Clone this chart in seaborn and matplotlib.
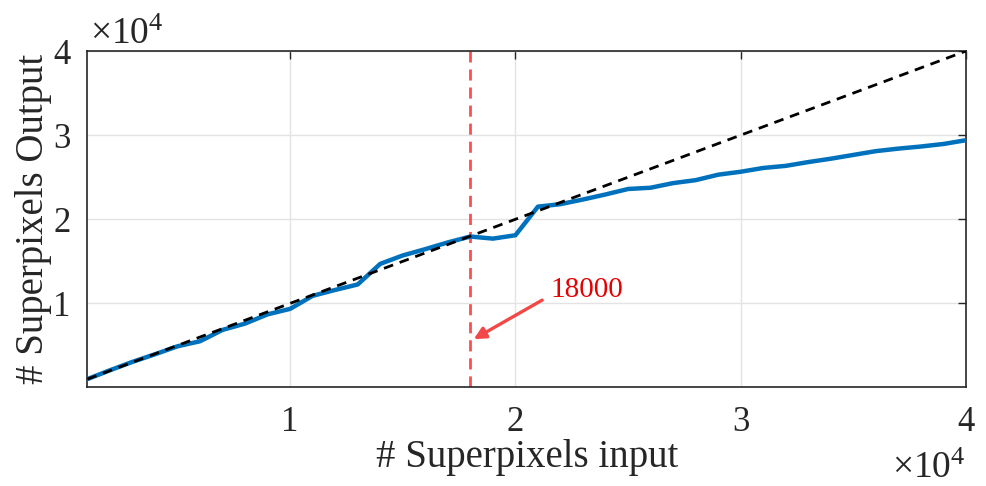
import numpy as np
import pandas as pd
import matplotlib
matplotlib.use("Agg")
import matplotlib.pyplot as plt
import seaborn as sns

# ---- data ----
sp_input = [1000, 2000, 3000, 4000, 5000, 6000, 7000, 8000, 9000, 10000,
            11000, 12000, 13000, 14000, 15000, 16000, 17000, 18000, 19000, 20000,
            21000, 22000, 23000, 24000, 25000, 26000, 27000, 28000, 29000, 30000,
            31000, 32000, 33000, 34000, 35000, 36000, 37000, 38000, 39000, 40000]
sp_output = [1000, 2050, 3050, 3950, 4900, 5500, 6850, 7600, 8700, 9350,
             10900, 11600, 12250, 14700, 15700, 16450, 17250, 17950, 17700, 18100,
             21500, 21800, 22350, 22950, 23600, 23750, 24300, 24650, 25300, 25650,
             26100, 26350, 26800, 27200, 27650, 28100, 28400, 28650, 28950, 29400]
ref_x = [1000, 40000]
ref_y = [1000, 40000]
threshold = 18000
tick_vals = [10000, 20000, 30000, 40000]
tick_labels = ["1", "2", "3", "4"]
annot_text = "18000"

df = pd.DataFrame({"input": sp_input, "output": sp_output})

sns.set_style("white")
plt.rcParams["font.family"] = ["Liberation Serif", "DejaVu Serif"]
plt.rcParams["mathtext.fontset"] = "custom"
plt.rcParams["mathtext.rm"] = "Liberation Serif"
plt.rcParams["mathtext.it"] = "Liberation Serif:italic"

fig = plt.figure(figsize=(9.87, 4.86), dpi=100)
ax = fig.add_axes([0.0885, 0.204, 0.8902, 0.691])

dark = "#262626"
ax.grid(True, color="#e3e3e3", linewidth=1.0, zorder=0)

ax.axvline(threshold, color="#ff4d4d", linestyle=(0, (4, 2.5)), linewidth=2.0, zorder=2)
sns.lineplot(data=df, x="input", y="output", ax=ax, color="#0072BD", linewidth=3.2, zorder=3)
ax.plot(ref_x, ref_y, color="black", linestyle=(0, (3.5, 2.5)), linewidth=2.0, zorder=4)

ax.annotate("", xy=(18150, 5750), xytext=(21190, 10390),
            arrowprops=dict(arrowstyle="-|>,head_length=0.7,head_width=0.35",
                            color="#f24848", lw=2.4, shrinkA=0, shrinkB=0), zorder=5)
ax.text(21560, 10750, annot_text, color="#e60000", fontsize=21, ha="left", va="baseline")

ax.set_xlim(1000, 40000)
ax.set_ylim(80, 40000)
ax.set_xticks(tick_vals)
ax.set_xticklabels(tick_labels)
ax.set_yticks(tick_vals)
ax.set_yticklabels(tick_labels)
ax.tick_params(direction="in", length=6, width=1.0, colors=dark, labelsize=25,
               top=True, right=True)
ax.tick_params(axis="x", pad=14)
ax.tick_params(axis="y", pad=12)
for s in ax.spines.values():
    s.set_visible(True)
    s.set_color(dark)
    s.set_linewidth(1.2)

ax.set_xlabel("# Superpixels input", fontsize=28, color=dark, labelpad=0)
ax.set_ylabel("# Superpixels Output", fontsize=28, color=dark, labelpad=1)

fig.text(0.091, 0.893, r"$\times10^{4}$", fontsize=27, color=dark, ha="left", va="bottom")
fig.text(0.978, 0.016, r"$\times10^{4}$", fontsize=27, color=dark, ha="right", va="baseline")

fig.savefig("out.png", dpi=100)
